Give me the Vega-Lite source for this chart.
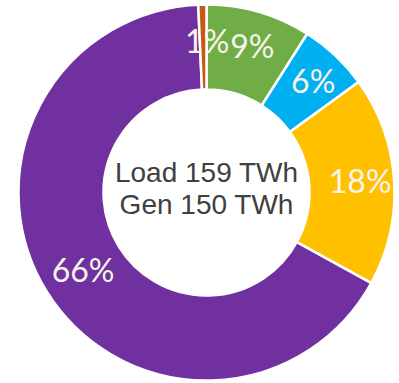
{
  "$schema": "https://vega.github.io/schema/vega-lite/v6.json",
  "width": 413,
  "height": 385,
  "autosize": {"type": "none"},
  "padding": {"left": 0, "top": 0, "right": 0, "bottom": 0},
  "background": "white",
  "data": {
    "values": [
      {"cat": "Wind", "pct": 9, "label": "9%", "o": 1},
      {"cat": "Solar", "pct": 6, "label": "6%", "o": 2},
      {"cat": "Hydro", "pct": 18, "label": "18%", "o": 3},
      {"cat": "Other", "pct": 66.3, "label": "66%", "o": 4},
      {"cat": "Nuclear", "pct": 0.7, "label": "1%", "o": 5}
    ]
  },
  "encoding": {
    "theta": {"field": "pct", "type": "quantitative", "stack": true},
    "order": {"field": "o", "type": "ordinal"}
  },
  "layer": [
    {
      "mark": {"type": "arc", "radius": 188, "radius2": 103, "stroke": "white", "strokeWidth": 2.5},
      "encoding": {
        "color": {
          "field": "cat",
          "type": "nominal",
          "scale": {
            "domain": ["Wind", "Solar", "Hydro", "Other", "Nuclear"],
            "range": ["#70AD47", "#00B0F0", "#FFC000", "#7030A0", "#C55A11"]
          },
          "legend": null
        }
      }
    },
    {
      "mark": {"type": "text", "radius": 150, "dx": 4, "font": "Lato", "fontSize": 32, "fill": "#F7F4EC", "align": "center", "baseline": "middle"},
      "encoding": {
        "text": {"field": "label"}
      }
    },
    {
      "data": {"values": [{"t": ["Load 159 TWh", "Gen 150 TWh"]}]},
      "mark": {"type": "text", "font": "Arial", "fontSize": 28, "fill": "#404040", "align": "center", "baseline": "middle", "lineHeight": 32, "dy": -19},
      "encoding": {
        "text": {"field": "t"},
        "theta": null,
        "order": null
      }
    }
  ]
}
